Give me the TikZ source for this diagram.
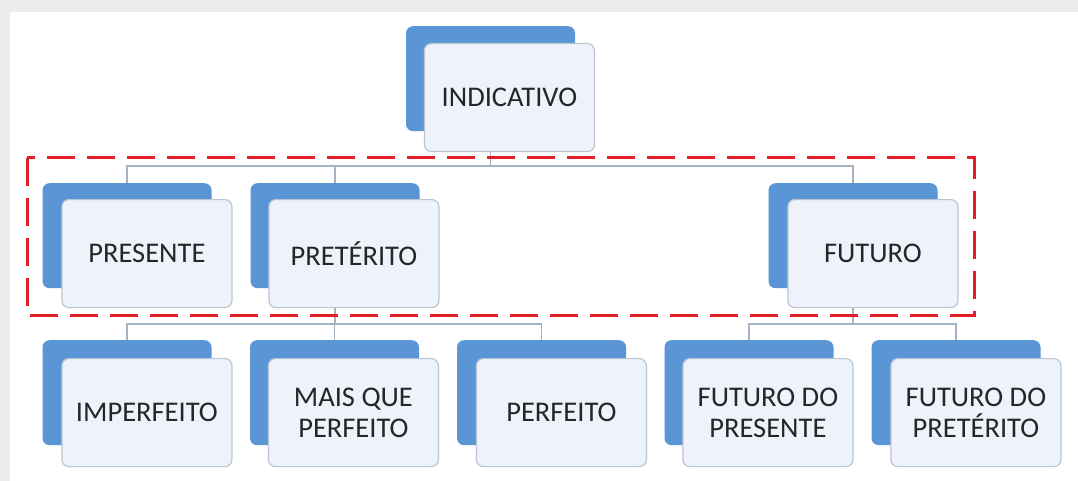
\documentclass[tikz,border=0pt]{standalone}
\usepackage{fontspec}
\setmainfont{Carlito}
\definecolor{backblue}{HTML}{5A96D6}
\definecolor{frontfill}{HTML}{EEF2FA}
\definecolor{frontline}{HTML}{BCC6D2}
\definecolor{linkcol}{HTML}{A3B3C4}
\definecolor{dashred}{HTML}{E31E26}
\definecolor{txt}{HTML}{262626}
\definecolor{slidegray}{HTML}{ECECEC}
\pgfdeclarelayer{bg}
\pgfdeclarelayer{links}
\pgfsetlayers{bg,links,main}
\begin{document}
\begin{tikzpicture}[x=1pt,y=-1pt,
 backbox/.style={fill=backblue, draw=none, rounded corners=7pt, minimum width=169pt, minimum height=105pt, anchor=north, inner sep=0pt},
 frontbox/.style={fill=frontfill, draw=frontline, line width=1.2pt, rounded corners=7pt, minimum width=170pt, minimum height=108pt, anchor=north west, inner sep=0pt, align=center, text=txt, font=\fontsize{28.5}{31}\selectfont},
 link/.style={draw=linkcol, line width=1.2pt},
 selbox/.style={draw=dashred, line width=3pt, dash pattern=on 28pt off 12pt}]
\useasboundingbox (0,0) rectangle (1078,481);
\begin{pgfonlayer}{bg}
\fill[slidegray] (0,0) rectangle (1078,481);
\fill[white] (10,12) rectangle (1078,481);
\end{pgfonlayer}
% top
\node[backbox] (indB) at (490.5,26) {};
\node[frontbox] (ind) at ([shift={(18,17)}]indB.north west) {INDICATIVO};
% middle row
\node[backbox] (presB) at (127,183) {};
\node[frontbox] (pres) at ([shift={(19,16)}]presB.north west) {PRESENTE};
\node[backbox] (pretB) at (335,183) {};
\node[frontbox] (pret) at ([shift={(18,16)}]pretB.north west) {PRETÉRITO};
\node[backbox] (futB) at (853,183) {};
\node[frontbox] (fut) at ([shift={(19,16)}]futB.north west) {FUTURO};
% bottom row
\node[backbox] (impB) at (127,340) {};
\node[frontbox] (imp) at ([shift={(19,18)}]impB.north west) {IMPERFEITO};
\node[backbox] (mqpB) at (334.5,340) {};
\node[frontbox] (mqp) at ([shift={(18,18)}]mqpB.north west) {MAIS QUE\\PERFEITO};
\node[backbox] (perfB) at (541.5,340) {};
\node[frontbox] (perf) at ([shift={(19,18)}]perfB.north west) {PERFEITO};
\node[backbox] (fdpB) at (749,340) {};
\node[frontbox] (fdp) at ([shift={(18,18)}]fdpB.north west) {FUTURO DO\\PRESENTE};
\node[backbox] (fdprB) at (956,340) {};
\node[frontbox] (fdpr) at ([shift={(19,18)}]fdprB.north west) {FUTURO DO\\PRETÉRITO};
% connectors
\coordinate (bus0) at (0,166);
\coordinate (bus1) at (0,324);
\begin{pgfonlayer}{links}
\draw[link] (indB.south) -- (indB.south |- bus0) -| (presB.north);
\draw[link] (indB.south |- bus0) -| (pretB.north);
\draw[link] (indB.south |- bus0) -| (futB.north);
\draw[link] (pretB.south) -- (pretB.south |- bus1) -| (impB.north);
\draw[link] (pretB.south |- bus1) -| (mqpB.north);
\draw[link] (pretB.south |- bus1) -| (perfB.north);
\draw[link] (futB.south) -- (futB.south |- bus1) -| (fdpB.north);
\draw[link] (futB.south |- bus1) -| (fdprB.north);
\end{pgfonlayer}
% selection
\draw[selbox] (27,158) rectangle (974,315);
\end{tikzpicture}
\end{document}
